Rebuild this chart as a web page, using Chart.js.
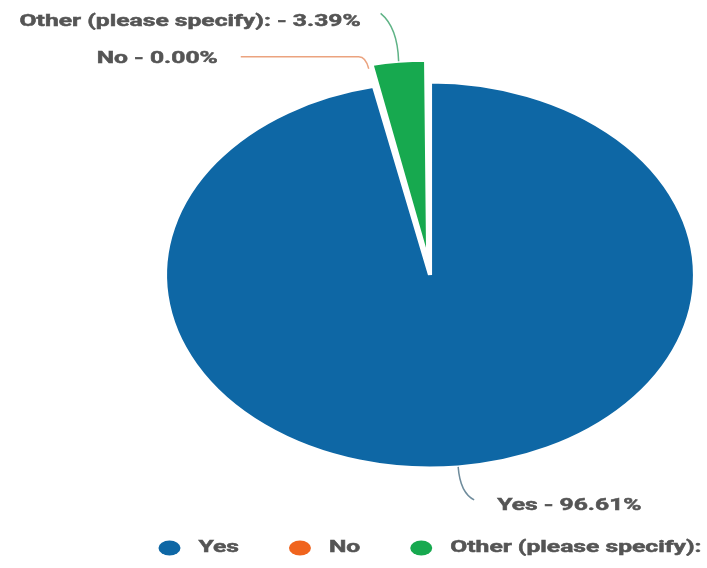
<!DOCTYPE html>
<html lang="en">
<head>
  <meta charset="UTF-8">
  <title>Survey result</title>
  <script src="https://cdn.jsdelivr.net/npm/chart.js"></script>
  <style>
    body {
      margin: 0;
      background: #ffffff;
    }
    canvas {
      display: block;
    }
  </style>
</head>
<body>
  <canvas id="chart" width="707" height="568"></canvas>

  <script>
  // answers and their share in percent
  const categories = ['Yes', 'No', 'Other (please specify):'];
  const shares = [96.61, 0.00, 3.39];

  const colors = ['#0e67a5', '#f0641e', '#17a94f'];
  const leaderColors = ['#6f8c9c', '#eba37f', '#5fb386'];
  const textColor = '#555555';

  // the pie is drawn stretched sideways, text too
  const SX = 1.373;
  const TEXT_SX = 1.45;
  const FONT = 'bold 17px Roboto';

  function toScreen(cx, x) {
    return cx + (x - cx) * SX;
  }

  function drawText(ctx, txt, x, y, align) {
    ctx.save();
    ctx.font = FONT;
    ctx.fillStyle = textColor;
    ctx.strokeStyle = textColor;
    ctx.lineWidth = 0.5;
    ctx.textBaseline = 'middle';
    const w = ctx.measureText(txt).width * TEXT_SX;
    let left = x;
    if (align === 'right') left = x - w;
    if (align === 'center') left = x - w / 2;
    ctx.translate(left, y);
    ctx.scale(TEXT_SX, 1);
    ctx.textAlign = 'left';
    ctx.fillText(txt, 0, 0);
    ctx.strokeText(txt, 0, 0);
    ctx.restore();
    return w;
  }

  // point on the rim of an arc (with explode shift), in screen coords
  function rimPoint(arc, extra, angle) {
    const off = (arc.options.offset || 0) / 4;
    const circ = arc.endAngle - arc.startAngle;
    const fix = 1 - Math.sin(Math.min(Math.PI, circ || 0));
    const shift = circ > 0 ? off * (1 + fix) : 0;
    const a = angle === undefined ? (arc.startAngle + arc.endAngle) / 2 : angle;
    const r = arc.outerRadius + shift + extra;
    return {
      x: toScreen(arc.x, arc.x + Math.cos(a) * r),
      y: arc.y + Math.sin(a) * r
    };
  }

  const stretchPlugin = {
    id: 'stretch',
    beforeDatasetsDraw(chart) {
      const ctx = chart.ctx;
      const a = chart.chartArea;
      const cx = (a.left + a.right) / 2;
      ctx.save();
      ctx.translate(cx, 0);
      ctx.scale(SX, 1);
      ctx.translate(-cx, 0);
    },
    afterDatasetsDraw(chart) {
      chart.ctx.restore();
    }
  };

  const labelPlugin = {
    id: 'labels',
    afterDraw(chart) {
      const ctx = chart.ctx;
      const arcs = chart.getDatasetMeta(0).data;
      const label = i => categories[i] + ' - ' + shares[i].toFixed(2) + '%';

      ctx.save();
      ctx.lineWidth = 1.5;

      // Yes: down and to the right
      let p = rimPoint(arcs[0], 0);
      ctx.strokeStyle = leaderColors[0];
      ctx.beginPath();
      ctx.moveTo(p.x, p.y);
      ctx.quadraticCurveTo(p.x + 2, p.y + 26, p.x + 16, p.y + 33);
      ctx.stroke();
      drawText(ctx, label(0), p.x + 39, p.y + 39, 'left');

      // No: zero slice, leader from just outside the rim, elbow to the left
      p = rimPoint(arcs[1], 18, arcs[1].startAngle);
      ctx.strokeStyle = leaderColors[1];
      ctx.beginPath();
      ctx.moveTo(p.x, p.y);
      ctx.quadraticCurveTo(p.x - 3, p.y - 12, p.x - 10, p.y - 12);
      ctx.lineTo(p.x - 128, p.y - 12);
      ctx.stroke();
      drawText(ctx, label(1), p.x - 151, p.y - 10, 'right');

      // Other: exploded slice, leader rising to the upper left
      p = rimPoint(arcs[2], 0);
      ctx.strokeStyle = leaderColors[2];
      ctx.beginPath();
      ctx.moveTo(p.x, p.y);
      ctx.quadraticCurveTo(p.x - 1, p.y - 34, p.x - 18, p.y - 48);
      ctx.stroke();
      drawText(ctx, label(2), p.x - 38, p.y - 40, 'right');

      // legend row, centred under the pie
      const a = chart.chartArea;
      const cx = (a.left + a.right) / 2;
      const y = 548;
      ctx.font = FONT;
      const widths = categories.map(c => ctx.measureText(c).width * TEXT_SX);
      const total = widths.reduce((s, w) => s + w + 40, 0) + 50 * (categories.length - 1);
      let x = cx - total / 2;
      categories.forEach((c, i) => {
        ctx.fillStyle = colors[i];
        ctx.beginPath();
        ctx.ellipse(x + 11, y, 11, 7.5, 0, 0, Math.PI * 2);
        ctx.fill();
        drawText(ctx, c, x + 40, y, 'left');
        x += 40 + widths[i] + 50;
      });
      ctx.restore();
    }
  };

  new Chart(document.getElementById('chart'), {
    type: 'pie',
    data: {
      labels: categories,
      datasets: [{
        data: shares,
        backgroundColor: colors,
        borderColor: '#ffffff',
        borderWidth: 3,
        offset: [0, 0, 49],
        radius: 193
      }]
    },
    options: {
      responsive: false,
      animation: false,
      layout: {
        padding: { left: 160, right: 7, top: 0, bottom: 18 }
      },
      plugins: {
        legend: { display: false },
        tooltip: { enabled: false }
      }
    },
    plugins: [stretchPlugin, labelPlugin]
  });
  </script>
</body>
</html>
